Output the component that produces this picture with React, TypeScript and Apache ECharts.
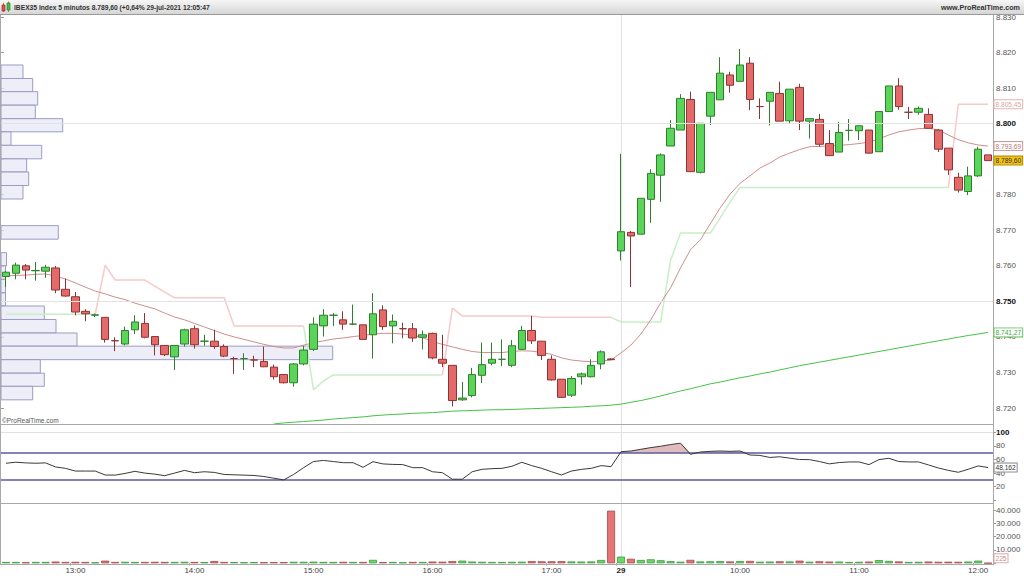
import { useEffect, useRef } from 'react';
import * as echarts from 'echarts';

const categories = [
  '12:25','12:30','12:35','12:40','12:45','12:50','12:55',
  '13:00','13:05','13:10','13:15','13:20','13:25','13:30','13:35','13:40','13:45','13:50','13:55',
  '14:00','14:05','14:10','14:15','14:20','14:25','14:30','14:35','14:40','14:45','14:50','14:55',
  '15:00','15:05','15:10','15:15','15:20','15:25','15:30','15:35','15:40','15:45','15:50','15:55',
  '16:00','16:05','16:10','16:15','16:20','16:25','16:30','16:35','16:40','16:45','16:50','16:55',
  '17:00','17:05','17:10','17:15','17:20','17:25','17:30',
  '09:00','09:05','09:10','09:15','09:20','09:25','09:30','09:35','09:40','09:45','09:50','09:55',
  '10:00','10:05','10:10','10:15','10:20','10:25','10:30','10:35','10:40','10:45','10:50','10:55',
  '11:00','11:05','11:10','11:15','11:20','11:25','11:30','11:35','11:40','11:45','11:50','11:55',
  '12:00','12:05'
];

const tickLabels = ['13:00', '14:00', '15:00', '16:00', '17:00', '09:00', '10:00', '11:00', '12:00'];
const dayStart = '09:00';
const dayLabel = '29';

const opens = [
  8757.0, 8757.9, 8760.0, 8758.6, 8758.5, 8759.4, 8753.4, 8751.3, 8747.2, 8746.1,
  8745.5, 8738.95, 8738.0, 8742.0, 8743.8, 8740.1, 8737.6, 8734.4, 8738.0, 8742.3,
  8738.8, 8738.8, 8737.3, 8733.9, 8733.9, 8733.5, 8733.1, 8731.5, 8729.4, 8727.1,
  8732.4, 8736.5, 8743.1, 8746.1, 8744.8, 8743.6, 8743.4, 8740.6, 8747.6, 8743.1,
  8742.3, 8742.3, 8739.9, 8741.0, 8733.7, 8732.0, 8722.3, 8723.5, 8729.2, 8732.6,
  8733.7, 8732.0, 8736.5, 8741.8, 8738.8, 8733.7, 8728.1, 8723.6, 8728.8, 8728.8,
  8732.4, 8733.8, 8764.2, 8769.4, 8768.9, 8778.7, 8785.5, 8793.7, 8798.2, 8806.8,
  8786.3, 8802.1, 8806.7, 8813.7, 8811.9, 8817.0, 8804.8, 8806.3, 8808.5, 8800.8,
  8810.2, 8800.7, 8801.2, 8794.4, 8792.0, 8798.1, 8798.0, 8798.2, 8792.1, 8803.4,
  8810.6, 8803.2, 8803.2, 8802.6, 8798.2, 8793.1, 8784.9, 8780.9, 8785.3, 8791.2
];
const closes = [
  8758.2, 8760.2, 8758.8, 8758.7, 8759.6, 8753.2, 8751.5, 8747.0, 8746.5, 8746.2,
  8739.3, 8738.9, 8741.8, 8744.2, 8739.9, 8737.8, 8735.0, 8737.6, 8742.0, 8737.8,
  8738.8, 8737.3, 8734.6, 8733.9, 8733.9, 8733.5, 8731.6, 8728.8, 8727.1, 8732.4,
  8736.3, 8743.6, 8746.1, 8746.1, 8743.6, 8743.6, 8739.3, 8746.5, 8742.9, 8744.4,
  8742.3, 8739.7, 8740.6, 8734.1, 8732.6, 8722.1, 8722.8, 8729.4, 8732.2, 8733.7,
  8733.7, 8737.5, 8741.8, 8738.9, 8734.8, 8727.9, 8723.0, 8728.3, 8729.6, 8732.0,
  8735.8, 8733.6, 8769.6, 8768.4, 8779.0, 8786.0, 8791.2, 8798.7, 8807.1, 8786.5,
  8800.1, 8808.8, 8814.2, 8810.8, 8816.5, 8806.8, 8804.8, 8808.8, 8800.7, 8809.7,
  8800.7, 8801.4, 8794.2, 8791.0, 8797.5, 8798.1, 8799.4, 8791.7, 8803.4, 8810.6,
  8804.8, 8803.2, 8804.3, 8798.7, 8792.8, 8787.0, 8781.3, 8785.3, 8792.8, 8789.6
];
const lows = [
  8754.0, 8756.2, 8756.2, 8755.8, 8756.6, 8752.3, 8751.3, 8746.1, 8744.4, 8745.6,
  8738.4, 8736.0, 8737.6, 8740.8, 8739.6, 8734.8, 8734.6, 8730.7, 8737.3, 8736.7,
  8737.5, 8736.6, 8734.3, 8729.6, 8730.7, 8731.5, 8731.5, 8728.0, 8726.9, 8726.0,
  8732.0, 8736.0, 8740.1, 8743.1, 8742.0, 8743.3, 8739.3, 8733.9, 8742.0, 8738.2,
  8739.6, 8738.6, 8736.5, 8733.7, 8731.5, 8720.4, 8722.0, 8723.0, 8727.0, 8732.0,
  8731.8, 8731.5, 8736.3, 8738.0, 8733.5, 8727.7, 8722.8, 8723.1, 8726.6, 8728.6,
  8730.9, 8733.5, 8761.5, 8754.0, 8768.9, 8772.1, 8778.0, 8793.7, 8798.2, 8786.5,
  8786.0, 8799.6, 8806.7, 8808.7, 8811.9, 8803.8, 8801.3, 8799.5, 8800.7, 8800.1,
  8798.2, 8795.8, 8793.5, 8791.0, 8792.0, 8795.2, 8795.4, 8791.7, 8792.1, 8803.4,
  8803.9, 8801.3, 8802.5, 8798.7, 8792.0, 8785.6, 8780.6, 8779.9, 8785.0, 8789.6
];
const highs = [
  8758.6, 8760.9, 8760.5, 8761.1, 8760.3, 8760.0, 8756.4, 8752.6, 8747.8, 8746.6,
  8745.5, 8739.9, 8742.9, 8746.1, 8746.7, 8740.1, 8737.6, 8737.6, 8742.3, 8743.2,
  8740.6, 8742.0, 8737.9, 8734.4, 8735.4, 8734.7, 8737.3, 8732.2, 8729.4, 8732.6,
  8737.5, 8745.5, 8747.8, 8746.7, 8747.2, 8749.1, 8743.4, 8752.3, 8748.9, 8746.3,
  8744.0, 8743.9, 8741.8, 8741.2, 8740.6, 8732.0, 8727.3, 8731.3, 8738.4, 8738.4,
  8739.3, 8739.1, 8743.1, 8745.9, 8738.8, 8734.8, 8728.1, 8729.0, 8730.0, 8733.7,
  8736.2, 8734.0, 8791.5, 8769.8, 8779.0, 8787.2, 8791.6, 8801.0, 8808.3, 8809.0,
  8800.1, 8808.8, 8818.7, 8814.6, 8821.0, 8818.7, 8807.1, 8808.8, 8811.8, 8809.7,
  8811.2, 8801.4, 8802.7, 8798.2, 8800.5, 8801.3, 8799.4, 8798.2, 8803.4, 8810.6,
  8812.8, 8804.7, 8804.8, 8804.3, 8798.5, 8793.1, 8786.2, 8787.9, 8793.5, 8791.2
];

const ma20 = [
  8757.1, 8757.3, 8757.4, 8757.6, 8757.7, 8757.1, 8756.3, 8755.2, 8754.0, 8752.9,
  8752.1, 8751.2, 8750.5, 8749.5, 8748.7, 8747.9, 8746.7, 8745.6, 8744.8, 8743.8,
  8742.8, 8741.8, 8740.8, 8740.0, 8739.3, 8738.6, 8737.9, 8737.3, 8736.9, 8736.9,
  8737.7, 8738.3, 8738.9, 8739.4, 8739.7, 8740.1, 8740.4, 8740.8, 8741.0, 8741.0,
  8740.8, 8740.5, 8739.8, 8738.7, 8737.9, 8737.2, 8736.5, 8735.9, 8735.6, 8735.6,
  8735.6, 8735.9, 8736.1, 8736.0, 8735.6, 8735.1, 8734.1, 8733.5, 8733.2, 8733.0,
  8733.2, 8733.5, 8735.5, 8737.7, 8740.8, 8744.8, 8749.6, 8753.8, 8759.4, 8764.5,
  8767.3, 8771.8, 8776.3, 8780.2, 8783.2, 8785.3, 8787.5, 8788.9, 8790.6, 8791.7,
  8792.7, 8793.5, 8793.6, 8793.7, 8793.9, 8794.1, 8794.4, 8794.8, 8795.7, 8796.8,
  8797.7, 8798.2, 8798.6, 8798.7, 8798.2, 8796.8, 8795.5, 8794.6, 8794.0, 8793.69
];

const maLong = [
  null, null, null, null, null, null, null, null, null, null,
  null, null, null, null, null, null, null, null, null, null,
  null, null, null, null, null, null, null, 8715.5, 8715.8, 8716.0,
  8716.2, 8716.4, 8716.6, 8716.9, 8717.1, 8717.3, 8717.5, 8717.8, 8718.0, 8718.2,
  8718.3, 8718.5, 8718.6, 8718.7, 8718.9, 8719.1, 8719.2, 8719.3, 8719.4, 8719.5,
  8719.5, 8719.6, 8719.7, 8719.8, 8719.9, 8720.0, 8720.1, 8720.2, 8720.3, 8720.5,
  8720.6, 8720.8, 8721.1, 8721.6, 8722.1, 8722.7, 8723.4, 8724.1, 8724.8, 8725.4,
  8726.1, 8726.8, 8727.3, 8727.9, 8728.5, 8729.0, 8729.6, 8730.1, 8730.7, 8731.3,
  8731.9, 8732.4, 8732.9, 8733.4, 8733.9, 8734.4, 8734.9, 8735.4, 8735.9, 8736.4,
  8736.9, 8737.4, 8737.9, 8738.4, 8738.9, 8739.4, 8739.9, 8740.4, 8740.8, 8741.27
];

const stopGreen = [
  8746.4, 8746.4, 8746.4, 8746.4, 8746.4, 8746.4, 8746.4, 8746.4, 8746.4, 8746.4,
  null, null, null, null, null, null, null, null, null, null,
  null, null, null, null, null, null, null, null, null, null,
  8743.1, 8725.1, 8727.6, 8729.3, 8729.3, 8729.3, 8729.3, 8729.3, 8729.3, 8729.3,
  8729.3, 8729.3, 8729.3, 8729.3, 8729.3, null, null, null, null, null,
  null, null, null, null, null, null, null, null, null, null,
  null, 8745.5, 8744.2, 8744.2, 8744.2, 8744.2, 8744.2, 8761.6, 8769.2, 8769.2,
  8769.2, 8769.2, 8773.5, 8778.0, 8782.0, 8782.0, 8782.0, 8782.0, 8782.0, 8782.0,
  8782.0, 8782.0, 8782.0, 8782.0, 8782.0, 8782.0, 8782.0, 8782.0, 8782.0, 8782.0,
  8782.0, 8782.0, 8782.0, 8782.0, 8782.0, 8782.0, null, null, null, null
];
const stopPink = [
  null, null, null, null, null, null, null, null, null, 8746.4,
  8760.2, 8756.0, 8756.0, 8756.0, 8756.0, 8754.3, 8752.6, 8751.0, 8751.0, 8751.0,
  8751.0, 8751.0, 8751.0, 8743.1, 8743.1, 8743.1, 8743.1, 8743.1, 8743.1, 8743.1,
  8743.1, null, null, null, null, null, null, null, null, null,
  null, null, null, null, 8729.3, 8748.1, 8745.9, 8745.9, 8745.9, 8745.9,
  8745.9, 8745.9, 8745.9, 8745.9, 8745.5, 8745.5, 8745.5, 8745.5, 8745.5, 8745.5,
  8745.5, 8745.5, null, null, null, null, null, null, null, null,
  null, null, null, null, null, null, null, null, null, null,
  null, null, null, null, null, null, null, null, null, null,
  null, null, null, null, null, 8782.0, 8805.45, 8805.45, 8805.45, 8805.45
];

const rsi = [
  54.5, 56, 55, 54.5, 55, 49, 47, 43, 43, 43,
  37.2, 37, 39.5, 42.6, 40, 38.5, 36.2, 40, 44, 40.6,
  42, 41, 38, 37.5, 37, 36.5, 35, 32.5, 30, 38,
  48, 57, 58.6, 57, 55.3, 55.3, 48.5, 56.8, 53.5, 52.8,
  52.5, 48, 48, 42, 40.6, 31, 31, 42, 45.6, 46.5,
  47, 50, 55.9, 51, 47, 42, 37.2, 43, 45.5, 47,
  51, 49.5, 71.5, 72.5, 75, 77.5, 79.5, 82, 84, 67.6,
  71, 72, 72.5, 72, 72.5, 66.6, 66, 63, 64, 62,
  60, 59.8, 57, 53.6, 55.5, 56.4, 56.4, 52.5, 59.8, 61.8,
  57, 56.4, 56.4, 52, 47.5, 44, 41.2, 45.6, 50.6, 48.162
];
const rsiUpper = 70;
const rsiLower = 30;

const volumes = [
  1000, 1000, 800, 1000, 1000, 1300, 1000, 1100, 1000, 700,
  2000, 1000, 1100, 1000, 1000, 1100, 1000, 1000, 1100, 1000,
  900, 1700, 1000, 900, 800, 900, 800, 900, 900, 1100,
  1100, 1200, 1000, 1000, 1100, 1000, 1000, 2600, 900, 1000,
  800, 1000, 1000, 1300, 1200, 1600, 2000, 1300, 1100, 1000,
  1000, 1100, 1200, 1600, 1500, 1500, 1600, 1400, 1300, 1400,
  2500, 39500, 5000, 3400, 2500, 3000, 2300, 1600, 1200, 2600,
  1400, 1500, 1600, 1400, 1700, 1800, 1200, 1300, 1500, 1400,
  2000, 1200, 1500, 1300, 1300, 1000, 1100, 1300, 2400, 1800,
  1400, 1000, 1100, 1300, 1100, 1200, 1100, 1300, 2000, 225
];

// volume-at-price profile: price edges (top to bottom) and volume per row
const profileEdges = [
  8816.5, 8812.7, 8809.0, 8805.2, 8801.4, 8797.7, 8793.9, 8790.1, 8786.4, 8782.6,
  8778.8, 8775.1, 8771.3, 8767.5, 8763.7, 8760.0, 8756.2, 8752.4, 8748.7, 8744.9,
  8741.1, 8737.4, 8733.6, 8729.8, 8726.1, 8722.3
];
const profileVolumes = [
  220, 317, 367, 343, 617, 100, 407, 257, 277, 220,
  0, 0, 573, 0, 55, 45, 45, 45, 433, 550,
  760, 3317, 393, 433, 317
];
const profileMax = 9920;

const FONT = 'Liberation Sans, Arial, sans-serif';

const thousands = (v: number) => {
  const s = Math.round(v).toString();
  return s.length > 3 ? s.slice(0, s.length - 3) + '.' + s.slice(-3) : s;
};
const priceDec = (v: number) => {
  const [a, b] = v.toFixed(2).split('.');
  return thousands(Number(a)) + ',' + b;
};

export default function App() {
  const ref = useRef<HTMLDivElement>(null);

  useEffect(() => {
    const chart = echarts.init(ref.current!, null, { renderer: 'svg' });

    const last = categories.length - 1;
    const lastClose = closes[last];

    const candleData = categories.map((_, i) => [opens[i], closes[i], lows[i], highs[i]]);
    const volData = volumes.map((v, i) => {
      const up = closes[i] >= opens[i];
      return {
        value: v,
        itemStyle: {
          color: up ? '#6cd86c' : '#e57575',
          borderColor: up ? '#3a9a3a' : '#a84848',
          borderWidth: 0.8,
        },
      };
    });
    const rsiBase = rsi.map(() => rsiUpper);
    const rsiExcess = rsi.map((v) => Math.max(v - rsiUpper, 0));
    const profileData = profileVolumes.map((v, k) => [profileEdges[k + 1], profileEdges[k], v]);

    const grids = [
      { left: 1, width: 992, top: 17, height: 391 },
      { left: 1, width: 992, top: 432.3, height: 68 },
      { left: 1, width: 992, top: 510, height: 53.3 },
    ];

    const catAxis = (gridIndex: number, showLabels: boolean) => ({
      type: 'category',
      gridIndex,
      data: categories,
      boundaryGap: true,
      axisLine: { show: false },
      axisTick: showLabels
        ? { show: true, length: 2, interval: (_i: number, v: string) => tickLabels.includes(v), lineStyle: { color: '#888' } }
        : { show: false },
      splitLine: { show: false },
      axisLabel: showLabels
        ? {
            show: true,
            interval: (_i: number, v: string) => tickLabels.includes(v),
            fontSize: 8,
            color: '#444',
            margin: 3,
            fontFamily: FONT,
            formatter: (v: string) => (v === dayStart ? `{d|${dayLabel}}` : v),
            rich: { d: { fontWeight: 'bold', fontSize: 8, color: '#222', fontFamily: FONT } },
          }
        : { show: false },
    });

    const option: any = {
      animation: false,
      textStyle: { fontFamily: FONT },
      grid: grids,
      xAxis: [
        catAxis(0, false),
        catAxis(1, false),
        catAxis(2, true),
        { type: 'value', gridIndex: 0, min: 0, max: profileMax, show: false },
      ],
      yAxis: [
        {
          type: 'value', gridIndex: 0, position: 'right', min: 8720, max: 8830, interval: 10,
          axisLine: { show: false },
          axisTick: { show: true, length: 3, lineStyle: { color: '#999' } },
          splitLine: { show: false },
          axisLabel: {
            fontSize: 8, color: '#555', margin: 3, fontFamily: FONT,
            formatter: (v: number) => {
              if (Math.abs(v - lastClose) < 3) return '';
              return v === 8800 || v === 8750 ? `{b|${thousands(v)}}` : thousands(v);
            },
            rich: { b: { fontWeight: 'bold', fontSize: 8, color: '#111', fontFamily: FONT } },
          },
        },
        {
          type: 'value', gridIndex: 1, position: 'right', min: 0, max: 100, interval: 20,
          axisLine: { show: false },
          axisTick: { show: true, length: 3, lineStyle: { color: '#999' } },
          splitLine: { show: false },
          axisLabel: {
            fontSize: 8, color: '#555', margin: 3, fontFamily: FONT,
            formatter: (v: number) => (v === 0 ? '' : v === 100 ? `{b|${v}}` : String(v)),
            rich: { b: { fontWeight: 'bold', fontSize: 8, color: '#111', fontFamily: FONT } },
          },
        },
        {
          type: 'value', gridIndex: 2, position: 'right', min: 0, max: 40000, interval: 10000,
          axisLine: { show: false },
          axisTick: { show: true, length: 3, lineStyle: { color: '#999' } },
          splitLine: { show: false },
          axisLabel: {
            fontSize: 8, color: '#555', margin: 3, fontFamily: FONT,
            formatter: (v: number) => (v === 0 ? '' : thousands(v)),
          },
        },
      ],
      series: [
        {
          type: 'custom',
          name: 'profile',
          xAxisIndex: 3,
          yAxisIndex: 0,
          z: 1,
          silent: true,
          data: profileData,
          renderItem: (_params: any, api: any) => {
            if (!api.value(2)) return null;
            const p0 = api.coord([0, api.value(1)]);
            const p1 = api.coord([api.value(2), api.value(0)]);
            return {
              type: 'rect',
              shape: { x: p0[0], y: p0[1], width: p1[0] - p0[0], height: p1[1] - p0[1] },
              style: { fill: 'rgba(232,232,246,0.75)', stroke: '#9c9cc4', lineWidth: 1 },
            };
          },
        },
        {
          type: 'line', name: 'stopGreen', xAxisIndex: 0, yAxisIndex: 0, data: stopGreen,
          symbol: 'none', z: 2, lineStyle: { color: '#c8eec8', width: 1.5 }, connectNulls: false,
        },
        {
          type: 'line', name: 'stopPink', xAxisIndex: 0, yAxisIndex: 0, data: stopPink,
          symbol: 'none', z: 2, lineStyle: { color: '#f7c9c9', width: 1.5 }, connectNulls: false,
        },
        {
          type: 'line', name: 'ma20', xAxisIndex: 0, yAxisIndex: 0, data: ma20,
          symbol: 'none', z: 3, lineStyle: { color: '#cc8e8e', width: 1 },
        },
        {
          type: 'line', name: 'maLong', xAxisIndex: 0, yAxisIndex: 0, data: maLong, clip: false,
          symbol: 'none', z: 3, lineStyle: { color: '#44c444', width: 1 },
        },
        {
          type: 'candlestick', name: 'IBEX35', xAxisIndex: 0, yAxisIndex: 0, data: candleData,
          barWidth: 8, z: 4,
          itemStyle: {
            color: '#5ad55a', color0: '#e46a6a',
            borderColor: '#2f7f2f', borderColor0: '#8e3434', borderWidth: 1,
          },
          markLine: {
            silent: true, symbol: 'none', label: { show: false },
            lineStyle: { color: '#e3e3e3', width: 1, type: 'solid' },
            data: [{ yAxis: 8800 }, { yAxis: 8750 }],
          },
        },
        {
          type: 'line', name: 'rsiBase', xAxisIndex: 1, yAxisIndex: 1, data: rsiBase, stack: 'ob',
          symbol: 'none', lineStyle: { width: 0, opacity: 0 }, silent: true,
        },
        {
          type: 'line', name: 'rsiExcess', xAxisIndex: 1, yAxisIndex: 1, data: rsiExcess, stack: 'ob',
          symbol: 'none', lineStyle: { width: 0, opacity: 0 }, silent: true,
          areaStyle: { color: 'rgba(196,128,128,0.75)' },
        },
        {
          type: 'line', name: 'RSI', xAxisIndex: 1, yAxisIndex: 1, data: rsi, z: 5,
          symbol: 'none', lineStyle: { color: '#3a3a3a', width: 1 },
          markLine: {
            silent: true, symbol: 'none', label: { show: false },
            data: [
              { yAxis: 100, lineStyle: { color: '#e2e2e2', width: 1, type: 'solid' } },
              { yAxis: rsiUpper, lineStyle: { color: '#5b5b9b', width: 1.5, type: 'solid' } },
              { yAxis: rsiLower, lineStyle: { color: '#5b5b9b', width: 1.5, type: 'solid' } },
            ],
          },
        },
        {
          type: 'bar', name: 'Volume', xAxisIndex: 2, yAxisIndex: 2, data: volData, barWidth: 8,
        },
      ],
    };

    chart.setOption(option);

    const yPrice = (v: number) => chart.convertToPixel({ yAxisIndex: 0 }, v) as number;
    const yRsi = (v: number) => chart.convertToPixel({ yAxisIndex: 1 }, v) as number;
    const yVol = (v: number) => chart.convertToPixel({ yAxisIndex: 2 }, v) as number;
    const xSep = Math.round(chart.convertToPixel({ xAxisIndex: 0 }, dayStart) as number) + 0.5;

    const lastPink = stopPink[last] as number;
    const lastMa = ma20[last];
    const lastLong = maLong[last] as number;
    const lastRsi = rsi[last];
    const lastVol = volumes[last];
    const volBottom = grids[2].top + grids[2].height;

    const valueBox = (id: string, y: number, text: string, color: string, border: string, bg: string) => ({
      type: 'text', id, x: 994.5, y, z: 100,
      style: {
        text, fontSize: 6.6, fontFamily: FONT, fill: color, backgroundColor: bg,
        borderColor: border, borderWidth: 1, padding: [1, 1, 0, 1], verticalAlign: 'middle',
      },
    });

    const LINE = '#a8a8a8';
    const graphic: any[] = [
      {
        type: 'rect', id: 'hdr', shape: { x: 0, y: 0, width: 1024, height: 14 }, z: 90,
        style: {
          fill: new echarts.graphic.LinearGradient(0, 0, 0, 1, [
            { offset: 0, color: '#f6f6f6' }, { offset: 1, color: '#d6d6d6' },
          ]),
        },
      },
      { type: 'line', id: 'hdrB', shape: { x1: 0, y1: 14.5, x2: 1024, y2: 14.5 }, z: 91, style: { stroke: '#9a9a9a', lineWidth: 1 } },
      { type: 'rect', id: 'ic1', shape: { x: 2, y: 5, width: 3, height: 6 }, z: 92, style: { fill: '#e05050', stroke: '#902020', lineWidth: 0.6 } },
      { type: 'line', id: 'ic1w', shape: { x1: 3.5, y1: 3, x2: 3.5, y2: 12 }, z: 91, style: { stroke: '#902020', lineWidth: 0.6 } },
      { type: 'rect', id: 'ic2', shape: { x: 7, y: 3, width: 3, height: 7 }, z: 92, style: { fill: '#40c040', stroke: '#207020', lineWidth: 0.6 } },
      { type: 'line', id: 'ic2w', shape: { x1: 8.5, y1: 1.5, x2: 8.5, y2: 12 }, z: 91, style: { stroke: '#207020', lineWidth: 0.6 } },
      {
        type: 'text', id: 'title', x: 14, y: 7.5, z: 92,
        style: {
          text: 'IBEX35 Index 5 minutos 8.789,60 (+0,64% 29-jul-2021 12:05:47',
          fontSize: 6.7, fontWeight: 'bold', fontFamily: FONT, fill: '#333', verticalAlign: 'middle',
        },
      },
      {
        type: 'text', id: 'site', x: 1020, y: 7.5, z: 92,
        style: {
          text: 'www.ProRealTime.com', fontSize: 7.2, fontWeight: 'bold', fontFamily: FONT,
          fill: '#333', align: 'right', verticalAlign: 'middle',
        },
      },
      { type: 'line', id: 'sep', shape: { x1: xSep, y1: 15, x2: xSep, y2: 565 }, z: 0, silent: true, style: { stroke: '#e2e2e2', lineWidth: 1 } },
      { type: 'line', id: 'rightAx', shape: { x1: 993.5, y1: 15, x2: 993.5, y2: 565 }, z: 50, style: { stroke: LINE, lineWidth: 1 } },
      { type: 'line', id: 'leftAx', shape: { x1: 0.5, y1: 15, x2: 0.5, y2: 565 }, z: 50, style: { stroke: LINE, lineWidth: 1 } },
      { type: 'line', id: 'p1', shape: { x1: 0, y1: 424.5, x2: 993.5, y2: 424.5 }, z: 50, style: { stroke: LINE, lineWidth: 1 } },
      { type: 'line', id: 'p2', shape: { x1: 0, y1: 503.5, x2: 993.5, y2: 503.5 }, z: 50, style: { stroke: LINE, lineWidth: 1 } },
      { type: 'line', id: 'p3', shape: { x1: 0, y1: 564.5, x2: 993.5, y2: 564.5 }, z: 50, style: { stroke: LINE, lineWidth: 1 } },
      {
        type: 'text', id: 'copy', x: 2, y: 420, z: 60,
        style: { text: '©ProRealTime.com', fontSize: 6.5, fontFamily: FONT, fill: '#555', verticalAlign: 'middle' },
      },
      valueBox('lbPink', yPrice(lastPink), priceDec(lastPink), '#d9a3a3', '#e3b4b4', '#ffffff'),
      valueBox('lbMa', yPrice(lastMa), priceDec(lastMa), '#b57878', '#c99a9a', '#ffffff'),
      valueBox('lbClose', yPrice(lastClose), priceDec(lastClose), '#333333', '#b58b00', '#f2c218'),
      valueBox('lbLong', yPrice(lastLong), priceDec(lastLong), '#3aa83a', '#6cc46c', '#ffffff'),
      valueBox('lbRsi', yRsi(lastRsi), lastRsi.toFixed(3).replace('.', ','), '#333333', '#8a8a8a', '#ffffff'),
      valueBox('lbVol', Math.min(yVol(lastVol), volBottom - 5), String(lastVol), '#d08a8a', '#e0aaaa', '#ffffff'),
    ];

    chart.setOption({ graphic });

    return () => chart.dispose();
  }, []);

  return (
    <div
      ref={ref}
      style={{ position: 'fixed', left: 0, top: 0, width: 1024, height: 576, background: '#ffffff' }}
    />
  );
}
